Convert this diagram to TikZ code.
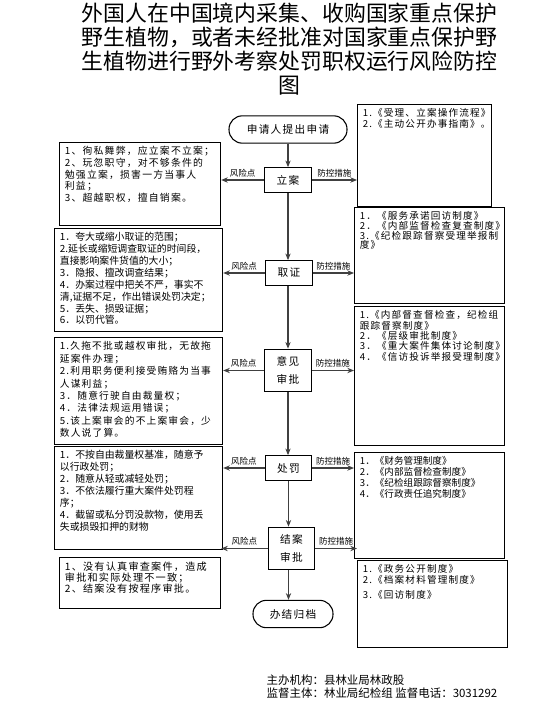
\documentclass[tikz,border=0pt]{standalone}
\usepackage{fontspec}
\setmainfont{Noto Sans CJK SC}
\newfontfamily\boxfont[LetterSpace=12]{Noto Sans CJK SC}
\usetikzlibrary{arrows.meta}
\newcommand{\topbox}[3]{\parbox[t][#2][t]{#1}{\raggedright #3}}

\begin{document}
\begin{tikzpicture}[x=0.75pt, y=-0.75pt,
  stepbox/.style={draw, line width=0.8pt, minimum width=35pt, minimum height=18.5pt, inner sep=2pt, align=center, font=\boxfont\fontsize{8}{13.5}\selectfont},
  endbox/.style={draw, line width=0.8pt, rounded corners=10pt, minimum height=20.5pt, font=\boxfont\fontsize{8}{10}\selectfont},
  riskbox/.style={draw, line width=0.9pt, anchor=north west, inner xsep=4pt, inner ysep=3pt, font=\fontsize{7.4}{8.9}\selectfont},
  ctrlbox/.style={draw, line width=0.9pt, anchor=north west, inner xsep=4pt, inner ysep=3pt, font=\boxfont\fontsize{7.2}{7.8}\selectfont},
  flow/.style={-{Stealth[length=5pt, width=4pt]}, line width=0.8pt, draw=black!75, fill=black!75},
  lab/.style={above, inner sep=2pt, font=\fontsize{6.4}{7}\selectfont}]
\useasboundingbox (0,0) rectangle (558,709);

\node[align=center, font=\fontsize{16.4}{18}\selectfont] (title) at (289.5,49.5) {外国人在中国境内采集、收购国家重点保护\\野生植物，或者未经批准对国家重点保护野\\生植物进行野外考察处罚职权运行风险防控\\图};

\node[endbox, minimum width=88.5pt] (apply) at (288,129.5) {申请人提出申请};
\node[stepbox] (lian) at (288,180) {立案};
\node[stepbox] (quzheng) at (289,273) {取证};
\node[stepbox, minimum height=32pt] (shenpi) at (288,370.5) {意见\\审批};
\node[stepbox] (chufa) at (288.5,468) {处罚};
\node[stepbox, minimum height=32pt] (jiean) at (291.5,548.5) {结案\\审批};
\node[endbox, minimum width=60pt] (guidang) at (293,614) {办结归档};

\node[riskbox, font=\boxfont\fontsize{7.4}{8.7}\selectfont] (risk1) at (59,142) {\topbox{112.7pt}{56.2pt}{1、徇私舞弊，应立案不立案；\\2、玩忽职守，对不够条件的\\勉强立案，损害一方当事人\\利益；\\3、超越职权，擅自销案。}};
\node[riskbox] (risk2) at (54,228) {\topbox{118pt}{71.2pt}{1．夸大或缩小取证的范围；\\2.延长或缩短调查取证的时间段，\\直接影响案件货值的大小；\\3．隐报、擅改调查结果；\\4．办案过程中把关不严，事实不\\清,证据不足，作出错误处罚决定；\\5．丢失、损毁证据；\\6．以罚代管。}};
\node[riskbox, font=\boxfont\fontsize{7.3}{9.3}\selectfont] (risk3) at (54,337) {\topbox{118pt}{74.2pt}{1.久拖不批或越权审批，无故拖\\延案件办理；\\2.利用职务便利接受贿赂为当事\\人谋利益；\\3．随意行驶自由裁量权；\\4．法律法规运用错误；\\5.该上案审会的不上案审会，少\\数人说了算。}};
\node[riskbox] (risk4) at (54,446) {\topbox{118pt}{71.2pt}{1．不按自由裁量权基准，随意予\\以行政处罚；\\2．随意从轻或减轻处罚；\\3．不依法履行重大案件处罚程\\序；\\4．截留或私分罚没款物，使用丢\\失或损毁扣押的财物}};
\node[riskbox, font=\boxfont\fontsize{7.6}{8.2}\selectfont] (risk5) at (59,557) {\topbox{112.7pt}{32.2pt}{1、没有认真审查案件，造成\\审批和实际处理不一致；\\2、结案没有按程序审批。}};

\node[ctrlbox] (ctrl1) at (357,104) {\topbox{92.5pt}{70.5pt}{1.《受理、立案操作流程》\\2.《主动公开办事指南》。}};
\node[ctrlbox, font=\boxfont\fontsize{7.2}{7.3}\selectfont] (ctrl2) at (354,207) {\topbox{104.5pt}{66pt}{1．《服务承诺回访制度》\\2．《内部监督检查复查制度》\\3.《纪检跟踪督察受理举报制\\度》}};
\node[ctrlbox] (ctrl3) at (354,306) {\topbox{104.5pt}{98.2pt}{1.《内部督查督检查，纪检组\\跟踪督察制度》\\2．《层级审批制度》\\3．《重大案件集体讨论制度》\\4．《信访投诉举报受理制度》}};
\node[ctrlbox, font=\fontsize{7.2}{8.3}\selectfont] (ctrl4) at (354,452) {\topbox{104.5pt}{73.5pt}{1．《财务管理制度》\\2．《内部监督检查制度》\\3．《纪检组跟踪督察制度》\\4．《行政责任追究制度》}};
\node[ctrlbox, font=\boxfont\fontsize{7.2}{8.3}\selectfont] (ctrl5) at (357,560) {\topbox{104.5pt}{59.2pt}{1.《政务公开制度》\\2.《档案材料管理制度》\\[3pt]3.《回访制度》}};

\draw[flow] (apply.south) -- (apply.south |- lian.north);
\draw[flow] (lian.south) -- (lian.south |- quzheng.north);
\draw[flow] (quzheng.south -| lian.south) -- (lian.south |- shenpi.north);
\draw[flow] (shenpi.south) -- (shenpi.south |- chufa.north);
\draw[flow] (chufa.south) -- (chufa.south |- jiean.north);
\draw[flow] (jiean.south -| chufa.south) -- (chufa.south |- guidang.north);

\draw[flow] (lian.west) -- (lian.west -| risk1.east) node[lab, midway] {风险点};
\draw[flow] (lian.east) -- (lian.east -| ctrl1.west) node[lab, midway] {防控措施};
\draw[flow] (quzheng.west) -- (quzheng.west -| risk2.east) node[lab, midway] {风险点};
\draw[flow] (quzheng.east) -- (quzheng.east -| ctrl2.west) node[lab, midway] {防控措施};
\draw[flow] (shenpi.west) -- (shenpi.west -| risk3.east) node[lab, midway] {风险点};
\draw[flow] (shenpi.east) -- (shenpi.east -| ctrl3.west) node[lab, midway] {防控措施};
\draw[flow] (chufa.west) -- (chufa.west -| risk4.east) node[lab, midway] {风险点};
\draw[flow] (chufa.east) -- (chufa.east -| ctrl4.west) node[lab, midway] {防控措施};
\draw[flow] (jiean.west) -- (jiean.west -| risk5.east) node[lab, midway] {风险点};
\draw[flow] (jiean.east) -- (jiean.east -| ctrl5.west) node[lab, midway] {防控措施};

\node[anchor=west, align=left, font=\fontsize{8.6}{9.8}\selectfont] (footer) at (262,686.5) {主办机构：县林业局林政股\\监督主体：林业局纪检组 监督电话：3031292};
\end{tikzpicture}
\end{document}
